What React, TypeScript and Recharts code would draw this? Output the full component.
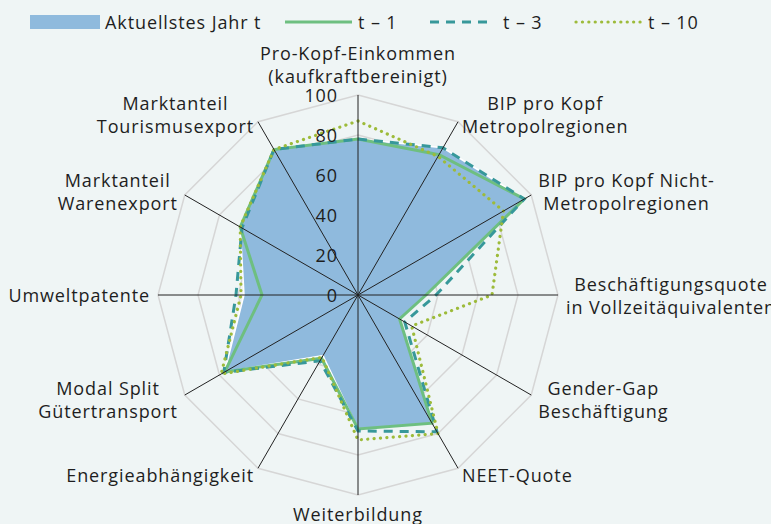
import { PolarAngleAxis, PolarGrid, PolarRadiusAxis, Radar, RadarChart, Legend } from "recharts";

const axes = [
  "Pro-Kopf-Einkommen\n(kaufkraftbereinigt)",
  "BIP pro Kopf\nMetropolregionen",
  "BIP pro Kopf Nicht-\nMetropolregionen",
  "Beschäftigungsquote\nin Vollzeitäquivalenten",
  "Gender-Gap\nBeschäftigung",
  "NEET-Quote",
  "Weiterbildung",
  "Energieabhängigkeit",
  "Modal Split\nGütertransport",
  "Umweltpatente",
  "Marktanteil\nWarenexport",
  "Marktanteil\nTourismusexport",
];
const current = [78, 85, 96, 34, 24, 74, 67, 35, 77, 57, 68, 84];
const tMinus1 = [78, 81, 96, 34, 24, 74, 67, 36.5, 77, 48, 68, 84];
const tMinus3 = [78, 85, 96, 39, 27, 79, 68, 38, 77.5, 61, 67, 84];
const tMinus10 = [87, 80, 84, 67, 31, 80, 72.5, 36, 79, 58.5, 68, 84];
const radiusTicks = [0, 20, 40, 60, 80, 100];
const seriesNames = ["Aktuellstes Jahr t", "t – 1", "t – 3", "t – 10"];

const data = axes.map((axis, i) => ({
  axis,
  cur: current[i],
  t1: tMinus1[i],
  t3: tMinus3[i],
  t10: tMinus10[i],
}));

const W = 771;
const H = 524;
const CX = 358;
const CY = 295;
const R = 200;
const FONT = "'Open Sans', sans-serif";
const FS = 18;
const LS = 0.9;
const LINE_H = 23;
const TEXT = "#1e1e1e";

const COLORS = {
  bg: "#eff5f5",
  area: "#8fbadd",
  t1: "#6ebf80",
  t3: "#37989a",
  t10: "#9dbb3a",
};

let ctx: CanvasRenderingContext2D | null = null;
function textWidth(s: string) {
  if (!ctx) ctx = document.createElement("canvas").getContext("2d");
  if (!ctx) return s.length * FS * 0.6;
  ctx.font = `${FS}px ${FONT}`;
  return ctx.measureText(s).width + s.length * LS;
}

function AngleTick(props: any) {
  const { payload } = props;
  const rad = (-payload.coordinate * Math.PI) / 180;
  const dx = Math.cos(rad);
  const dy = Math.sin(rad);
  const ex = CX + R * dx;
  const ey = CY + R * dy;
  const ax = ex + 8 * dx;
  const ay = ey + 8 * dy;
  const lines = String(payload.value).split("\n");
  const maxW = Math.max(...lines.map(textWidth));
  let bx = ax;
  let firstY = ay - ((lines.length - 1) * LINE_H) / 2;
  if (dx > 0.1) bx = ax + maxW / 2;
  else if (dx < -0.1) bx = ax - maxW / 2;
  else if (dy < 0) firstY = ay - LINE_H / 2 - (lines.length - 1) * LINE_H;
  else firstY = ay + LINE_H / 2 - 1;
  return (
    <g>
      <line x1={CX} y1={CY} x2={ex} y2={ey} stroke="#222" strokeWidth={1} />
      {lines.map((l, i) => (
        <text
          key={i}
          x={bx}
          y={firstY + i * LINE_H}
          textAnchor="middle"
          dominantBaseline="central"
          fontFamily={FONT}
          fontSize={FS}
          letterSpacing={LS}
          fill={TEXT}
        >
          {l}
        </text>
      ))}
    </g>
  );
}

function RadiusTick(props: any) {
  const { y, payload } = props;
  return (
    <text x={CX - 20} y={y} textAnchor="end" dominantBaseline="central" fontFamily={FONT} fontSize={FS} letterSpacing={LS} fill={TEXT}>
      {payload.value}
    </text>
  );
}

function LegendContent() {
  const y = 22;
  const t = { fontFamily: FONT, fontSize: FS, letterSpacing: LS, fill: TEXT, dominantBaseline: "central" as const };
  return (
    <svg width={W} height={36}>
      <rect x={30} y={y - 7} width={70} height={14} fill={COLORS.area} />
      <text x={105} y={y} {...t}>{seriesNames[0]}</text>
      <line x1={285} y1={y} x2={352} y2={y} stroke={COLORS.t1} strokeWidth={3} />
      <text x={358} y={y} {...t}>{seriesNames[1]}</text>
      <line x1={430} y1={y} x2={492} y2={y} stroke={COLORS.t3} strokeWidth={3} strokeDasharray="9 7" />
      <text x={503} y={y} {...t}>{seriesNames[2]}</text>
      <line x1={576} y1={y} x2={642} y2={y} stroke={COLORS.t10} strokeWidth={3.2} strokeDasharray="0.1 6.3" strokeLinecap="round" />
      <text x={648} y={y} {...t}>{seriesNames[3]}</text>
    </svg>
  );
}

export default function App() {
  return (
    <div style={{ position: "absolute", left: 0, top: 0, width: W, height: H, background: COLORS.bg }}>
      <RadarChart
        width={W}
        height={H}
        data={data}
        cx={CX}
        cy={CY}
        outerRadius={R}
        startAngle={90}
        endAngle={-270}
        margin={{ top: 0, right: 0, bottom: 0, left: 0 }}
      >
        <PolarGrid gridType="polygon" radialLines={false} stroke="#d6d6d6" strokeWidth={1.5} />
        <Legend verticalAlign="top" wrapperStyle={{ top: 0, left: 0 }} content={<LegendContent />} />
        <Radar dataKey="cur" name={seriesNames[0]} fill={COLORS.area} fillOpacity={1} stroke="#ffffff" strokeWidth={1.5} dot={false} isAnimationActive={false} />
        <Radar dataKey="t1" name={seriesNames[1]} fill="none" fillOpacity={0} stroke={COLORS.t1} strokeWidth={3} dot={false} isAnimationActive={false} />
        <Radar dataKey="t3" name={seriesNames[2]} fill="none" fillOpacity={0} stroke={COLORS.t3} strokeWidth={3} strokeDasharray="9 7" dot={false} isAnimationActive={false} />
        <Radar dataKey="t10" name={seriesNames[3]} fill="none" fillOpacity={0} stroke={COLORS.t10} strokeWidth={3.2} strokeDasharray="0.1 6.3" strokeLinecap="round" dot={false} isAnimationActive={false} />
        <PolarAngleAxis dataKey="axis" tick={<AngleTick />} tickLine={false} axisLine={false} />
        <PolarRadiusAxis domain={[0, 100]} ticks={radiusTicks} angle={90} axisLine={false} tickLine={false} tick={<RadiusTick />} />
      </RadarChart>
    </div>
  );
}
